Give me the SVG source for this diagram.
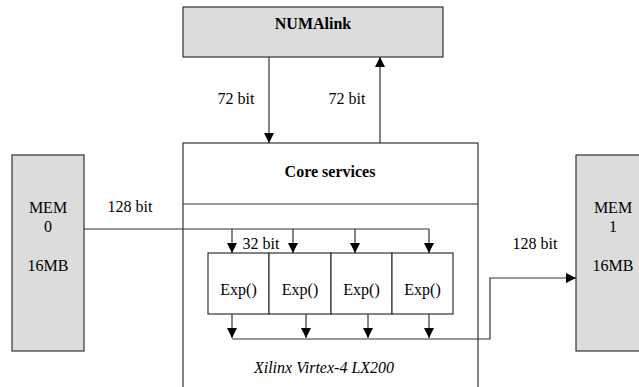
<svg xmlns="http://www.w3.org/2000/svg" width="639" height="387" viewBox="0 0 639 387">
<style>
.gray{fill:#dcdcdc;stroke:#333;stroke-width:1.2}
.box{fill:#fff;stroke:#333;stroke-width:1.2}
.ln{fill:none;stroke:#333;stroke-width:1.2}
</style>
<defs>
<marker id="ah" viewBox="0 0 10 10" refX="10" refY="5" markerWidth="11" markerHeight="10" markerUnits="userSpaceOnUse" orient="auto">
<path d="M0,0 L10,5 L0,10 Z" fill="#000"/>
</marker>
</defs>
<rect width="639" height="387" fill="#fff"/>
<g id="numalink">
<rect class="gray" x="183" y="7" width="260" height="50"/>
<text font-family="Liberation Serif" font-size="16" text-anchor="middle" font-weight="bold" x="313" y="29">NUMAlink</text>
</g>
<g id="fpga">
<rect class="box" x="183" y="143" width="295" height="260"/>
<line class="ln" x1="183" y1="204" x2="478" y2="204"/>
<text font-family="Liberation Serif" font-size="16" text-anchor="middle" font-weight="bold" x="330" y="177">Core services</text>
<text font-family="Liberation Serif" font-size="16" text-anchor="middle" font-style="italic" x="324" y="373">Xilinx Virtex-4 LX200</text>
</g>
<g id="mem0">
<rect class="gray" x="12" y="155" width="72" height="196"/>
<text font-family="Liberation Serif" font-size="16" text-anchor="middle" x="48" y="213">MEM</text>
<text font-family="Liberation Serif" font-size="16" text-anchor="middle" x="48" y="232">0</text>
<text font-family="Liberation Serif" font-size="16" text-anchor="middle" x="48" y="271">16MB</text>
</g>
<g id="mem1">
<rect class="gray" x="576" y="155" width="70" height="196"/>
<text font-family="Liberation Serif" font-size="16" text-anchor="middle" x="613" y="213">MEM</text>
<text font-family="Liberation Serif" font-size="16" text-anchor="middle" x="613" y="232">1</text>
<text font-family="Liberation Serif" font-size="16" text-anchor="middle" x="613" y="271">16MB</text>
</g>
<g id="exp1"><rect class="box" x="208" y="253" width="61" height="61"/><text font-family="Liberation Serif" font-size="16" text-anchor="middle" x="238.5" y="295">Exp()</text></g>
<g id="exp2"><rect class="box" x="269" y="253" width="62" height="61"/><text font-family="Liberation Serif" font-size="16" text-anchor="middle" x="300" y="295">Exp()</text></g>
<g id="exp3"><rect class="box" x="331" y="253" width="61" height="61"/><text font-family="Liberation Serif" font-size="16" text-anchor="middle" x="361.5" y="295">Exp()</text></g>
<g id="exp4"><rect class="box" x="392" y="253" width="61" height="61"/><text font-family="Liberation Serif" font-size="16" text-anchor="middle" x="422.5" y="295">Exp()</text></g>
<g id="connectors">
<line class="ln" x1="269" y1="57" x2="269" y2="143" marker-end="url(#ah)"/>
<line class="ln" x1="380" y1="143" x2="380" y2="57" marker-end="url(#ah)"/>
<text font-family="Liberation Serif" font-size="16" text-anchor="middle" x="236" y="104">72 bit</text>
<text font-family="Liberation Serif" font-size="16" text-anchor="middle" x="347" y="104">72 bit</text>
<polyline class="ln" points="84,229 429,229"/>
<line class="ln" x1="232" y1="229" x2="232" y2="253" marker-end="url(#ah)"/>
<line class="ln" x1="293" y1="229" x2="293" y2="253" marker-end="url(#ah)"/>
<line class="ln" x1="355" y1="229" x2="355" y2="253" marker-end="url(#ah)"/>
<line class="ln" x1="429" y1="229" x2="429" y2="253" marker-end="url(#ah)"/>
<text font-family="Liberation Serif" font-size="16" text-anchor="middle" x="130" y="212">128 bit</text>
<text font-family="Liberation Serif" font-size="16" text-anchor="middle" x="261" y="249">32 bit</text>
<line class="ln" x1="232" y1="314" x2="232" y2="338" marker-end="url(#ah)"/>
<line class="ln" x1="306" y1="314" x2="306" y2="338" marker-end="url(#ah)"/>
<line class="ln" x1="368" y1="314" x2="368" y2="338" marker-end="url(#ah)"/>
<line class="ln" x1="429" y1="314" x2="429" y2="338" marker-end="url(#ah)"/>
<polyline class="ln" points="232,339 490,339 490,278 576,278" marker-end="url(#ah)"/>
<text font-family="Liberation Serif" font-size="16" text-anchor="middle" x="535" y="249">128 bit</text>
</g>
</svg>
